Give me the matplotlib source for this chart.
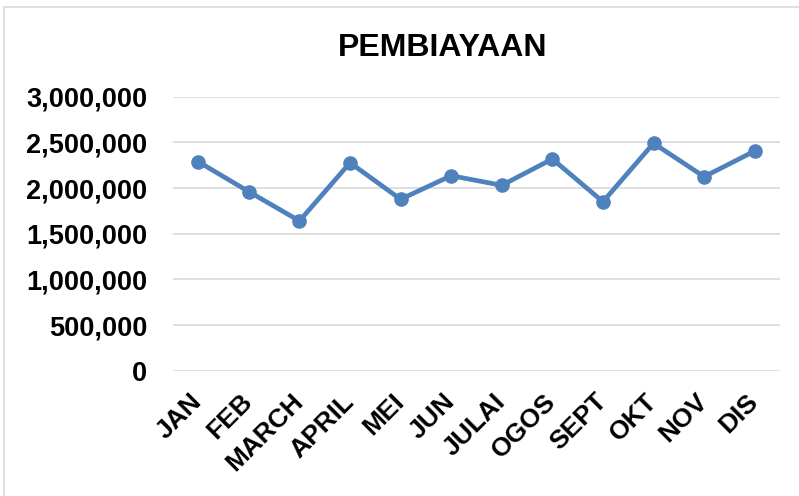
import matplotlib
matplotlib.use("Agg")
import matplotlib.pyplot as plt
from matplotlib.patches import Rectangle
from matplotlib.ticker import FuncFormatter, MultipleLocator

months = ["JAN", "FEB", "MARCH", "APRIL", "MEI", "JUN", "JULAI", "OGOS", "SEPT", "OKT", "NOV", "DIS"]
values = [2288000, 1960000, 1640000, 2277000, 1877000, 2135000, 2030000, 2318000, 1850000, 2490000, 2124000, 2405000]
title = "PEMBIAYAAN"

plt.rcParams['font.family'] = ['Liberation Sans', 'DejaVu Sans']

fig = plt.figure(figsize=(7.99, 4.96), dpi=100)
ax = fig.add_axes([173/799, 1 - 370.7/496, (780 - 173)/799, (370.7 - 96.7)/496])

x = list(range(len(months)))
ax.plot(x, values, color="#4F81BD", lw=3.4, marker="o", markersize=9.5, solid_joinstyle="round", zorder=3)

ax.set_xlim(-0.5, len(months) - 0.5)
ax.set_ylim(0, 3000000)
ax.yaxis.set_major_locator(MultipleLocator(500000))
ax.yaxis.set_major_formatter(FuncFormatter(lambda v, p: f"{int(v):,}"))
ax.grid(axis="y", color="#D9D9D9", lw=1.2)
ax.set_axisbelow(True)
for s in ax.spines.values():
    s.set_visible(False)
ax.tick_params(length=0)
ax.tick_params(axis="y", pad=18.7, labelsize=19.5)
ax.set_xticks(x)
ax.set_xticklabels(months, rotation=45, ha="right", va="center", rotation_mode="anchor",
                   fontsize=19, fontweight="bold")
ax.tick_params(axis="x", pad=19.5)
for lbl in ax.get_yticklabels():
    lbl.set_fontweight("bold")

fig.text(442.5/799, 1 - 47.5/496, title, ha="center", va="center", fontsize=23, fontweight="bold")

fig.patches.append(Rectangle((4/799, -0.01), 1.0, 1 - 7/496 + 0.01, transform=fig.transFigure,
                             fill=False, edgecolor="#D9D9D9", lw=1.2))

fig.savefig("out.png", dpi=100)
